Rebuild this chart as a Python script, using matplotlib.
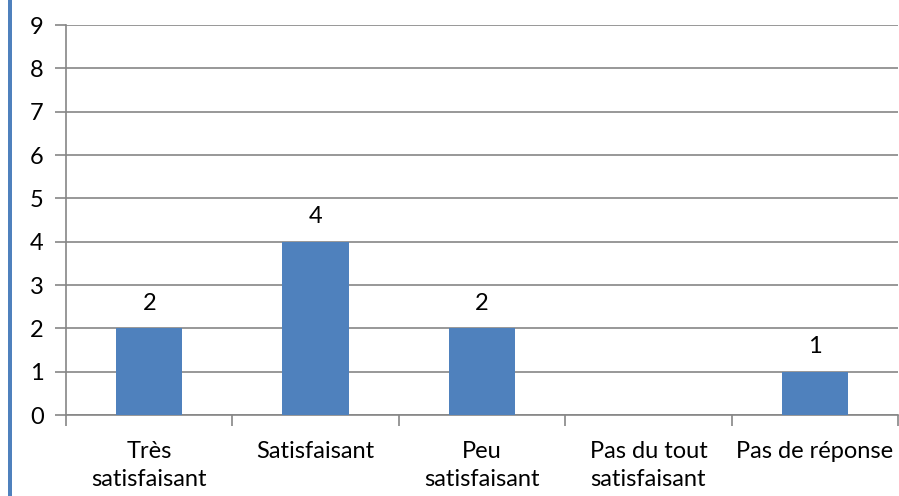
import matplotlib.pyplot as plt
from matplotlib.patches import Rectangle

categories = ["Très\nsatisfaisant", "Satisfaisant", "Peu\nsatisfaisant",
              "Pas du tout\nsatisfaisant", "Pas de réponse"]
values = [2, 4, 2, 0, 1]
labels_shown = [True, True, True, False, True]
y_ticks = list(range(0, 10))

plt.rcParams['font.family'] = ['Lato', 'DejaVu Sans']

W, H = 899, 496
fig = plt.figure(figsize=(W / 100, H / 100), dpi=100)
ax = fig.add_axes([66 / W, (H - 415) / H, (898 - 66) / W, (415 - 25) / H])

grid_c = "#868686"
bar_c = "#4F81BD"
fs = 17

x = list(range(len(categories)))
ax.bar(x, values, width=0.4, color=bar_c, zorder=3)
for xi, v, show in zip(x, values, labels_shown):
    if show:
        ax.text(xi, v + 0.42, str(v), ha="center", va="baseline", fontsize=fs, color="black")

ax.set_xlim(-0.5, len(categories) - 0.5)
ax.set_ylim(0, 9)
ax.set_yticks(y_ticks)
ax.yaxis.grid(True, color=grid_c, linewidth=1.2, zorder=0)
ax.set_axisbelow(True)

# category boundaries get the tick marks, labels sit between them
ax.set_xticks([i - 0.5 for i in range(len(categories) + 1)], minor=False)
ax.set_xticklabels([])
ax.set_xticks(x, minor=True)
ax.set_xticklabels(categories, minor=True, fontsize=fs, linespacing=1.4)
ax.tick_params(axis="x", which="minor", length=0, pad=19)
ax.tick_params(axis="x", which="major", length=8, color=grid_c, width=1.2)
ax.tick_params(axis="y", length=8, color=grid_c, width=1.2, labelsize=fs, pad=8)

for side in ["top", "right"]:
    ax.spines[side].set_visible(False)
for side in ["left", "bottom"]:
    ax.spines[side].set_color(grid_c)
    ax.spines[side].set_linewidth(1.2)

fig.add_artist(Rectangle((8 / W, 0), 4 / W, 1, transform=fig.transFigure,
                         color=bar_c, linewidth=0))

fig.savefig("out.png", dpi=100)
